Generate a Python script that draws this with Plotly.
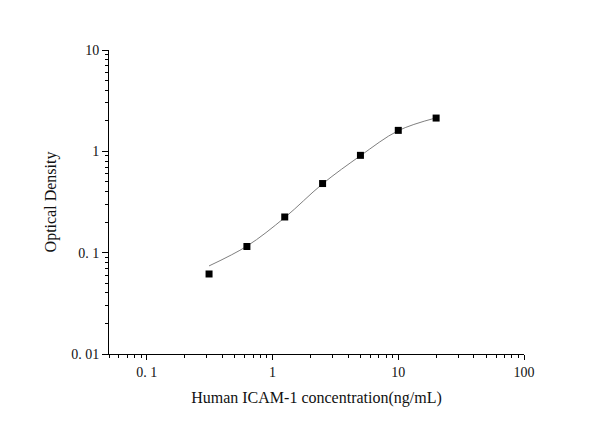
import plotly.graph_objects as go

conc = [0.3125, 0.625, 1.25, 2.5, 5, 10, 20]
od = [0.0616, 0.115, 0.225, 0.481, 0.913, 1.61, 2.13]
fit_od = [0.074, 0.116, 0.222, 0.478, 0.905, 1.60, 2.14]

x_tickvals = [0.1, 1, 10, 100]
x_ticktext = ["0. 1", "1", "10", "100"]
y_tickvals = [0.01, 0.1, 1, 10]
y_ticktext = ["0. 01", "0. 1", "1", "10"]

font_family = "Liberation Serif, Times New Roman, serif"

fig = go.Figure()
fig.add_trace(go.Scatter(x=conc, y=fit_od, mode="lines", line=dict(color="#7f7f7f", width=1, shape="spline"),
                         hoverinfo="skip", showlegend=False))
fig.add_trace(go.Scatter(x=conc, y=od, mode="markers",
                         marker=dict(symbol="square", size=7, color="black"), showlegend=False))

axis_common = dict(type="log", showgrid=False, zeroline=False, showline=True, linecolor="black", linewidth=1,
                   ticks="outside", tickcolor="black", tickwidth=1,
                   tickfont=dict(family=font_family, size=14, color="#111"))

fig.update_xaxes(**axis_common, range=[-1.301, 2], tickvals=x_tickvals, ticktext=x_ticktext, ticklen=5,
                 minor=dict(ticks="outside", ticklen=3, tickcolor="black", dtick="D1", showgrid=False),
                 title=dict(text="Human ICAM-1 concentration(ng/mL)", font=dict(family=font_family, size=16, color="#111"),
                            standoff=13))
fig.update_yaxes(**axis_common, range=[-2, 1], tickvals=y_tickvals, ticktext=y_ticktext, ticklen=6,
                 minor=dict(ticks="outside", ticklen=3, tickcolor="black", dtick="D1", showgrid=False),
                 title=dict(text="Optical Density", font=dict(family=font_family, size=16, color="#111"), standoff=10))

fig.update_layout(width=608, height=425, margin=dict(l=101, r=92, t=42, b=79),
                  plot_bgcolor="white", paper_bgcolor="white")

fig.write_html("out.html")
